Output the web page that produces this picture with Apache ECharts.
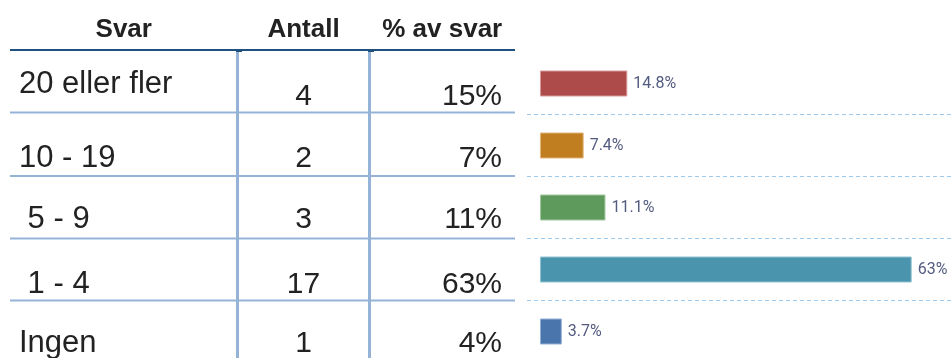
<!DOCTYPE html>
<html>
<head>
<meta charset="utf-8">
<script src="https://cdn.jsdelivr.net/npm/echarts@6/dist/echarts.min.js"></script>
<style>
  html, body { margin: 0; padding: 0; background: #ffffff; }
  #chart { width: 952px; height: 358px; }
</style>
</head>
<body>
<div id="chart"></div>
<script>
// Survey answers: how many times
const headers = ['Svar', 'Antall', '% av svar'];
const categories = ['20 eller fler', '10 - 19', ' 5 - 9', ' 1 - 4', 'Ingen'];
const counts = [4, 2, 3, 17, 1];
const tablePercents = ['15%', '7%', '11%', '63%', '4%'];
const shares = [14.8, 7.4, 11.1, 63, 3.7];

// Styling
const barColors = ['#ad4a4a', '#c17e21', '#5e9a5c', '#4a95ad', '#4a75ac'];
const barBorders = ['#d89a9a', '#e0b57a', '#a3c8a1', '#92c3d3', '#93b0d4'];
const TABLE_FONT = '"Liberation Sans", Arial, sans-serif';
const TEXT_COLOR = '#222222';
const GRID_BLUE = '#95b3d7';
const HEAD_BLUE = '#1f517f';

// Table layout (pixels)
const colLeft = 10, colRight = 515;
const colSplits = [237.5, 369.5];
const rowLines = [112.5, 176, 238.5, 300.5];
const labelBase = [93, 167, 228, 293, 352];
const numberBase = [105, 167, 228, 293, 352];

function textEl(x, baseline, str, size, weight, align) {
  return {
    type: 'text',
    x: x,
    y: baseline - size * 0.27,
    silent: true,
    style: {
      text: str,
      fill: TEXT_COLOR,
      font: weight + ' ' + size + 'px ' + TABLE_FONT,
      align: align,
      verticalAlign: 'middle'
    }
  };
}

const graphics = [];
// header row
graphics.push(textEl((colLeft + colSplits[0]) / 2, 37, headers[0], 26, 'bold', 'center'));
graphics.push(textEl((colSplits[0] + colSplits[1]) / 2, 37, headers[1], 26, 'bold', 'center'));
graphics.push(textEl((colSplits[1] + colRight) / 2, 37, headers[2], 26, 'bold', 'center'));
// vertical column rules
colSplits.forEach(function (x) {
  graphics.push({ type: 'rect', silent: true, shape: { x: x - 1.5, y: 51, width: 3, height: 320 }, style: { fill: GRID_BLUE } });
  graphics.push({ type: 'rect', silent: true, shape: { x: x - 1.5, y: 50, width: 6, height: 2 }, style: { fill: HEAD_BLUE } });
});
// header underline
graphics.push({ type: 'rect', silent: true, shape: { x: colLeft, y: 49, width: colRight - colLeft, height: 2 }, style: { fill: HEAD_BLUE } });
// row rules
rowLines.forEach(function (y) {
  graphics.push({ type: 'rect', silent: true, shape: { x: colLeft, y: y - 1, width: colRight - colLeft, height: 2 }, style: { fill: GRID_BLUE } });
});
// body rows
categories.forEach(function (cat, i) {
  graphics.push(textEl(19, labelBase[i], cat, 31, 'normal', 'left'));
  graphics.push(textEl((colSplits[0] + colSplits[1]) / 2, numberBase[i], String(counts[i]), 30, 'normal', 'center'));
  graphics.push(textEl(502, numberBase[i], tablePercents[i], 30, 'normal', 'right'));
});

const chart = echarts.init(document.getElementById('chart'), null, { renderer: 'canvas' });
chart.setOption({
  animation: false,
  backgroundColor: '#ffffff',
  // band height 62px; the half-pixel top keeps the dashed separators crisp
  grid: { left: 527, top: 52.5, width: 426, height: 310, outerBoundsMode: 'none', containLabel: false },
  xAxis: {
    type: 'value',
    min: -2.2,
    max: 70,
    show: false
  },
  yAxis: {
    type: 'category',
    inverse: true,
    data: categories,
    axisLine: { show: false },
    axisTick: { show: false },
    axisLabel: { show: false },
    splitLine: {
      show: true,
      showMinLine: false,
      lineStyle: { color: '#9ccaf0', width: 1, type: [4, 3] }
    }
  },
  series: [{
    type: 'bar',
    barWidth: 26,
    data: shares.map(function (v, i) {
      return { value: v, itemStyle: { color: barColors[i], borderColor: barBorders[i], borderWidth: 1 } };
    }),
    label: {
      show: true,
      position: 'right',
      distance: 6,
      formatter: '{c}%',
      fontFamily: 'Roboto',
      fontSize: 16,
      color: '#535b80'
    }
  }],
  graphic: graphics
});
</script>
</body>
</html>
